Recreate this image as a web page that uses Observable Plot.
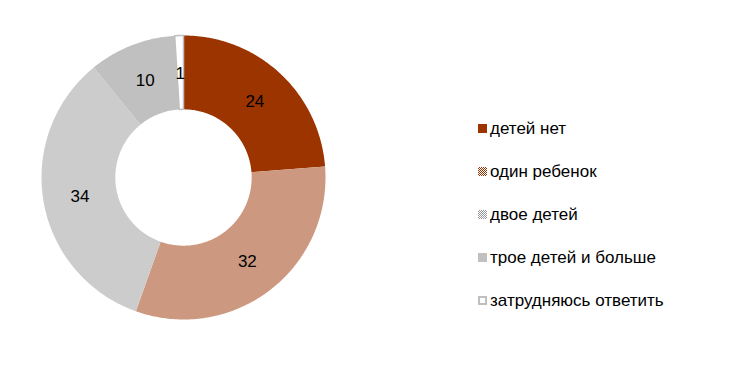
<!DOCTYPE html>
<html>
<head>
<meta charset="utf-8">
<script src="https://cdn.jsdelivr.net/npm/d3@7"></script>
<script src="https://cdn.jsdelivr.net/npm/@observablehq/plot@0.6"></script>
<style>
  html, body { margin: 0; padding: 0; background: #fff; }
  #wrap { position: relative; width: 754px; height: 374px; font-family: Arial, "Liberation Sans", sans-serif; }
  #legend { position: absolute; left: 478px; top: 107px; }
  .item { display: flex; align-items: center; height: 43px; font-size: 17px; color: #000; line-height: 20px; }
  .sw { width: 9px; height: 9px; margin-right: 3px; box-sizing: border-box; }
</style>
</head>
<body>
<div id="wrap"><div id="legend"></div></div>
<script>
const categories = ["детей нет", "один ребенок", "двое детей", "трое детей и больше", "затрудняюсь ответить"];
const values = [24, 32, 34, 10, 1];
const fills = ["#9c3400", "url(#patBrown)", "url(#patGrey)", "#c0c0c0", "#ffffff"];
const strokes = ["none", "none", "none", "none", "#bfbfbf"];
const swatchCss = [
  "background:#9c3400",
  "background:repeating-conic-gradient(#993300 0 25%, #fff 0 50%) 0 0/2px 2px",
  "background:repeating-conic-gradient(#999 0 25%, #fff 0 50%) 0 0/2px 2px",
  "background:#c0c0c0",
  "background:#fff;border:2px solid #bfbfbf"
];

const outerR = 1, innerR = 0.48;
const pie = d3.pie().sort(null).value(d => d)(values);
const polys = [];
const labels = [];
pie.forEach((p, i) => {
  const n = Math.max(8, Math.ceil((p.endAngle - p.startAngle) * 60));
  const pts = [];
  for (let k = 0; k <= n; k++) {
    const a = p.startAngle + (p.endAngle - p.startAngle) * k / n;
    pts.push({x: outerR * Math.sin(a), y: outerR * Math.cos(a)});
  }
  for (let k = n; k >= 0; k--) {
    const a = p.startAngle + (p.endAngle - p.startAngle) * k / n;
    pts.push({x: innerR * Math.sin(a), y: innerR * Math.cos(a)});
  }
  pts.push(pts[0]);
  pts.forEach(q => polys.push({...q, cat: categories[i], i}));
  const mid = (p.startAngle + p.endAngle) / 2;
  const rm = (outerR + innerR) / 2;
  labels.push({x: rm * Math.sin(mid), y: rm * Math.cos(mid), v: values[i]});
});

const chart = Plot.plot({
  width: 754,
  height: 374,
  marginLeft: 41,
  marginRight: 429,
  marginTop: 35,
  marginBottom: 55,
  x: {domain: [-1, 1], axis: null},
  y: {domain: [-1, 1], axis: null},
  style: {fontFamily: "Arial, 'Liberation Sans', sans-serif", background: "transparent"},
  marks: [
    ...categories.map((c, i) => Plot.line(polys.filter(d => d.i === i), {
      x: "x", y: "y", fill: fills[i], stroke: strokes[i], strokeWidth: 1.5, curve: "linear"
    })),
    Plot.text(labels, {x: "x", y: "y", text: d => String(d.v), fontSize: 17, fill: "#000", dy: 1})
  ]
});

const ns = "http://www.w3.org/2000/svg";
const defs = document.createElementNS(ns, "defs");
defs.innerHTML = `
  <pattern id="patBrown" width="2" height="2" patternUnits="userSpaceOnUse">
    <rect width="2" height="2" fill="#ffffff"/>
    <rect width="1" height="1" fill="#993300"/>
    <rect x="1" y="1" width="1" height="1" fill="#993300"/>
  </pattern>
  <pattern id="patGrey" width="2" height="2" patternUnits="userSpaceOnUse">
    <rect width="2" height="2" fill="#ffffff"/>
    <rect width="1" height="1" fill="#999999"/>
    <rect x="1" y="1" width="1" height="1" fill="#999999"/>
  </pattern>`;
chart.insertBefore(defs, chart.firstChild);
chart.style.position = "absolute";
chart.style.left = "0";
chart.style.top = "0";
document.getElementById("wrap").insertBefore(chart, document.getElementById("legend"));

const legend = document.getElementById("legend");
categories.forEach((c, i) => {
  const it = document.createElement("div");
  it.className = "item";
  it.innerHTML = `<span class="sw" style="${swatchCss[i]}"></span><span>${c}</span>`;
  legend.appendChild(it);
});
</script>
</body>
</html>
